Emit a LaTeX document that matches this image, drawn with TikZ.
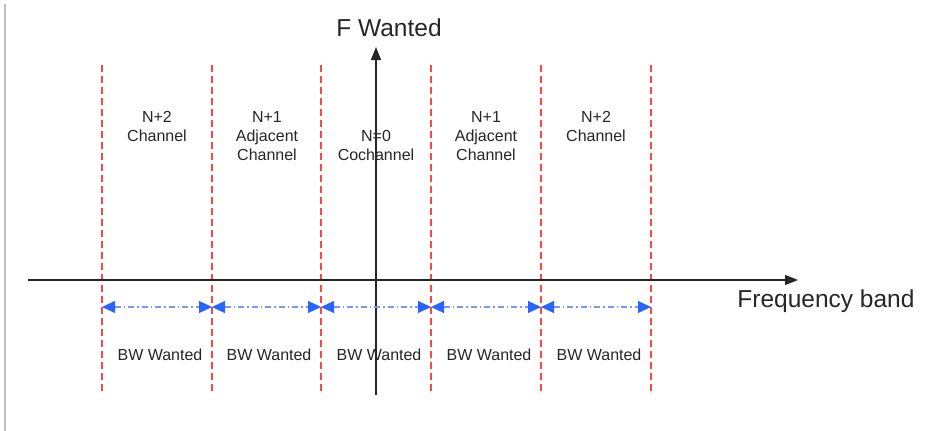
\documentclass[tikz,border=0pt]{standalone}
\usepackage{fontspec}
\setmainfont{Liberation Sans}
\usetikzlibrary{arrows.meta}
\definecolor{bandred}{RGB}{255,70,70}
\definecolor{bwblue}{RGB}{40,100,255}
\definecolor{bwdash}{RGB}{120,150,255}
\begin{document}
\begin{tikzpicture}[x=1pt,y=-1pt,
  edge/.style={bandred,line width=1.3pt,dash pattern=on 7pt off 4pt},
  axis/.style={line width=1.4pt,draw=black!85,-{Triangle[length=13pt,width=10pt]}},
  bwtip/.tip={Triangle[length=13pt,width=12pt,color=bwblue,fill=bwblue]},
  bw/.style={line width=1.2pt,draw=bwdash,dash pattern=on 6pt off 3pt on 1.5pt off 3pt,bwtip-bwtip},
  lbl/.style={font=\fontsize{16}{19}\selectfont,align=center,text=black!85},
  big/.style={font=\fontsize{24.5}{28}\selectfont,text=black!85}]
\useasboundingbox (0,0) rectangle (930,431);
% frame edge on the left
\draw[black!25,line width=2pt] (5,4) -- (5,431);
% channel boundaries
\foreach \i/\x in {0/102,1/212,2/321,3/431,4/541,5/651}{
  \coordinate (t\i) at (\x,65);
  \coordinate (b\i) at (\x,393);
  \coordinate (a\i) at (\x,307);
  \draw[edge] (t\i) -- (b\i);
}
% axes
\coordinate (xs) at (28,280);
\coordinate (xe) at (798,280);
\coordinate (ys) at (376,395);
\coordinate (ye) at (376,47);
\draw[axis] (xs) -- (xe);
\draw[axis] (ys) -- (ye);
\node[big] (fw) at (389,28) {F Wanted};
\node[big] (fb) at (826,301) {Frequency band};
% bandwidth markers
\foreach \i/\j in {0/1,1/2,2/3,3/4,4/5}{
  \draw[bw] (a\i) -- (a\j);
}
\foreach \x/\n in {160/1,269/2,379/3,489/4,599/5}{
  \node[lbl] (bw\n) at (\x,355) {BW Wanted};
}
% channel names
\node[lbl,anchor=north] (c1) at (157,108) {N+2\\Channel};
\node[lbl,anchor=north] (c2) at (267,108) {N+1\\Adjacent\\Channel};
\node[lbl,anchor=north] (c3) at (376,127) {N=0\\Cochannel};
\node[lbl,anchor=north] (c4) at (486,108) {N+1\\Adjacent\\Channel};
\node[lbl,anchor=north] (c5) at (596,108) {N+2\\Channel};
\end{tikzpicture}
\end{document}
